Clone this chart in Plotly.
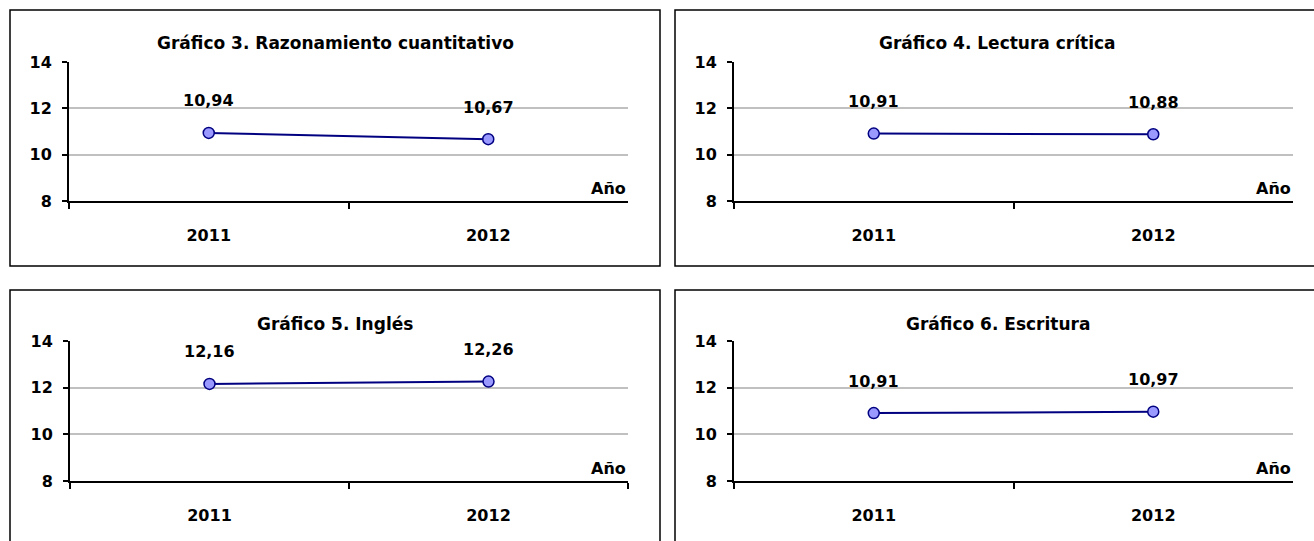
import plotly.graph_objects as go

W, H = 1314, 541

years = ["2011", "2012"]
titles = [
    "Gráfico 3. Razonamiento cuantitativo",
    "Gráfico 4. Lectura crítica",
    "Gráfico 5. Inglés",
    "Gráfico 6. Escritura",
]
razonamiento = [10.94, 10.67]
lectura = [10.91, 10.88]
ingles = [12.16, 12.26]
escritura = [10.91, 10.97]
series = [razonamiento, lectura, ingles, escritura]
y_ticks = [8, 10, 12, 14]
x_label = "Año"

FONT = "'DejaVu Sans', Verdana, sans-serif"

# plot area pixels: (x0, x1, ytop, ybottom)
areas = [
    (69, 628, 62, 201),
    (734, 1293, 62, 201),
    (70, 628, 341, 481),
    (734, 1293, 341, 481),
]
# panel borders pixels: (x0, x1, y0, y1)
borders = [
    (10, 660, 10, 266),
    (675, 1330, 10, 266),
    (10, 660, 290, 560),
    (675, 1330, 290, 560),
]
title_y = [43, 43, 324, 324]

fig = go.Figure()
layout = dict(
    width=W, height=H,
    margin=dict(l=0, r=0, t=0, b=0, pad=0, autoexpand=False),
    paper_bgcolor="white", plot_bgcolor="white",
    showlegend=False,
    font=dict(family=FONT, size=15, color="black"),
)
annotations = []
shapes = []

for i, vals in enumerate(series):
    n = i + 1
    xa = "x" if n == 1 else f"x{n}"
    ya = "y" if n == 1 else f"y{n}"
    fig.add_trace(go.Scatter(
        x=years, y=vals, mode="lines+markers",
        line=dict(color="#000080", width=2),
        marker=dict(symbol="circle", size=11, color="#9999ff",
                    line=dict(color="#000080", width=1.5)),
        xaxis=xa, yaxis=ya, hoverinfo="x+y",
    ))
    x0, x1, yt, yb = areas[i]
    layout[f"xaxis{'' if n == 1 else n}"] = dict(
        domain=[x0 / W, x1 / W], anchor=ya, type="category",
        range=[-0.5, 1.5], tickson="boundaries",
        showline=True, linecolor="black", linewidth=2,
        ticks="outside", ticklen=6, tickwidth=1.5, tickcolor="black",
        showgrid=False, zeroline=False, automargin=False,
        tickfont=dict(family=FONT, size=16, color="black", weight="bold"),
        ticklabelstandoff=19,
    )
    layout[f"yaxis{'' if n == 1 else n}"] = dict(
        domain=[1 - yb / H, 1 - yt / H], anchor=xa,
        range=[8, 14], tickvals=y_ticks,
        showline=True, linecolor="black", linewidth=2,
        ticks="outside", ticklen=5, tickwidth=1.5, tickcolor="black",
        showgrid=True, gridcolor="#c0c0c0", gridwidth=2,
        zeroline=False, automargin=False,
        tickfont=dict(family=FONT, size=16, color="black", weight="bold"),
        ticklabelstandoff=7,
    )
    for k, v in enumerate(vals):
        annotations.append(dict(
            x=k, y=v, xref=xa, yref=ya, text=f"{v:.2f}".replace(".", ","),
            showarrow=False, yshift=32,
            font=dict(family=FONT, size=16, color="black", weight="bold"),
        ))
    annotations.append(dict(
        x=1, y=8, xref=f"{xa} domain", yref=ya, text=x_label,
        showarrow=False, xanchor="right", yanchor="bottom", yshift=1,
        font=dict(family=FONT, size=16, color="black", weight="bold"),
    ))
    bx0, bx1, by0, by1 = borders[i]
    annotations.append(dict(
        x=(bx0 + min(bx1, 1320)) / 2 / W, y=1 - title_y[i] / H,
        xref="paper", yref="paper", text=titles[i], showarrow=False,
        xanchor="center", yanchor="middle",
        font=dict(family=FONT, size=17, color="black", weight="bold"),
    ))
    shapes.append(dict(
        type="rect", xref="paper", yref="paper",
        x0=bx0 / W, x1=bx1 / W, y0=1 - by1 / H, y1=1 - by0 / H,
        line=dict(color="black", width=1.5), fillcolor="rgba(0,0,0,0)",
        layer="below",
    ))

layout["annotations"] = annotations
layout["shapes"] = shapes
fig.update_layout(**layout)
fig.write_html(
    "out.html",
    config={"displayModeBar": False},
    post_script="document.body.style.margin='0';document.body.style.overflow='hidden';",
)
